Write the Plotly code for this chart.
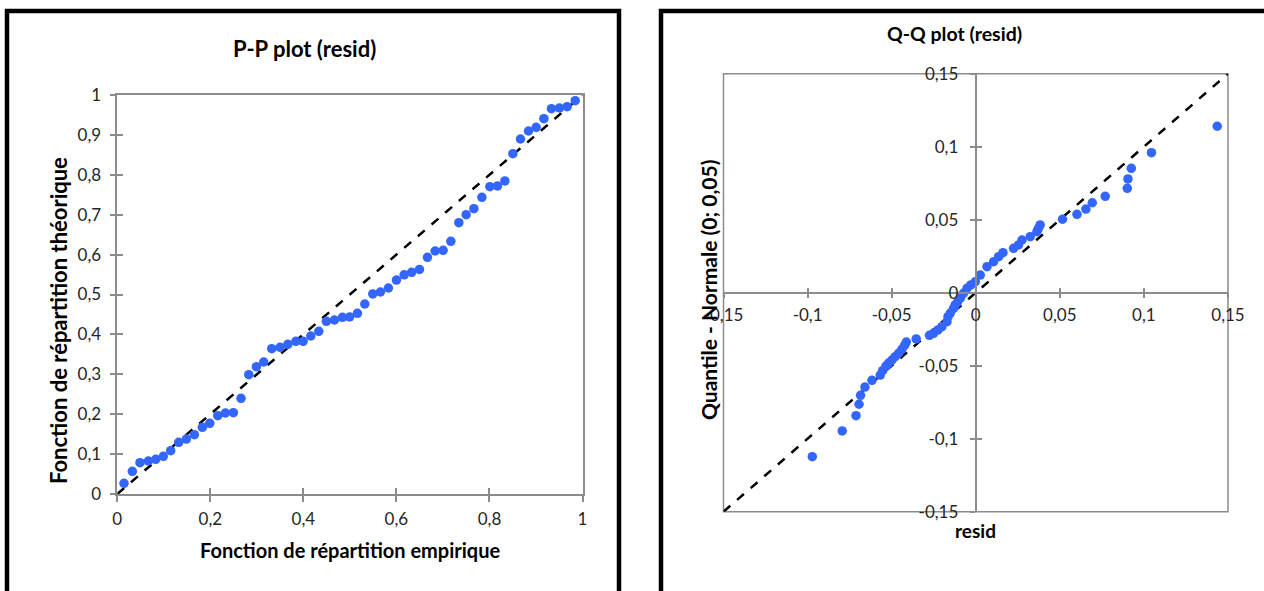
import plotly.graph_objects as go

W, H = 1264, 591

# ---------------- data ----------------
pp_empirical = [0.0144, 0.0323, 0.0488, 0.0667, 0.0826, 0.0989, 0.1148, 0.1320, 0.1484, 0.1656,
                0.1828, 0.1987, 0.2159, 0.2323, 0.2495, 0.2660, 0.2826, 0.2989, 0.3148, 0.3320,
                0.3499, 0.3665, 0.3837, 0.3994, 0.4159, 0.4331, 0.4495, 0.4667, 0.4839, 0.4994,
                0.5161, 0.5320, 0.5492, 0.5656, 0.5828, 0.6000, 0.6166, 0.6327, 0.6495, 0.6667,
                0.6832, 0.7004, 0.7170, 0.7342, 0.7499, 0.7665, 0.7837, 0.8009, 0.8172, 0.8331,
                0.8503, 0.8667, 0.8839, 0.9004, 0.9170, 0.9333, 0.9505, 0.9671, 0.9843]
pp_theoretical = [0.0268, 0.0569, 0.0784, 0.0827, 0.0870, 0.0945, 0.1085, 0.1296, 0.1378, 0.1486,
                  0.1672, 0.1772, 0.1962, 0.2030, 0.2038, 0.2398, 0.2990, 0.3190, 0.3308, 0.3642,
                  0.3677, 0.3752, 0.3827, 0.3827, 0.3960, 0.4078, 0.4328, 0.4361, 0.4429, 0.4436,
                  0.4529, 0.4762, 0.5013, 0.5063, 0.5163, 0.5363, 0.5494, 0.5556, 0.5627, 0.5932,
                  0.6090, 0.6108, 0.6333, 0.6799, 0.7000, 0.7150, 0.7436, 0.7702, 0.7719, 0.7845,
                  0.8529, 0.8897, 0.9098, 0.9190, 0.9406, 0.9657, 0.9674, 0.9707, 0.9857]
pp_ref_line = [0, 1]

qq_resid = [-0.0972, -0.0794, -0.0712, -0.0694, -0.0685, -0.0659, -0.0617, -0.0568, -0.0554, -0.0534,
            -0.0518, -0.0498, -0.0479, -0.0459, -0.0439, -0.0423, -0.0413, -0.0354, -0.0275, -0.0251,
            -0.0225, -0.0201, -0.0171, -0.0165, -0.0152, -0.0132, -0.0122, -0.0108, -0.0092, -0.0073,
            -0.0052, -0.0029, -0.0003, 0.0027, 0.0067, 0.0106, 0.0136, 0.0162, 0.0225, 0.0254,
            0.0275, 0.0324, 0.0364, 0.0373, 0.0383, 0.0516, 0.0602, 0.0655, 0.0693, 0.0770,
            0.0901, 0.0905, 0.0925, 0.1045, 0.1436]
qq_normal = [-0.1123, -0.0947, -0.0842, -0.0764, -0.0703, -0.0646, -0.0600, -0.0564, -0.0534, -0.0502,
             -0.0482, -0.0461, -0.0438, -0.0415, -0.0388, -0.0360, -0.0338, -0.0317, -0.0292, -0.0278,
             -0.0255, -0.0233, -0.0199, -0.0164, -0.0141, -0.0107, -0.0084, -0.0064, -0.0038, -0.0004,
             0.0030, 0.0053, 0.0075, 0.0121, 0.0178, 0.0212, 0.0247, 0.0274, 0.0304, 0.0327,
             0.0361, 0.0384, 0.0418, 0.0441, 0.0464, 0.0503, 0.0537, 0.0573, 0.0616, 0.0660,
             0.0715, 0.0779, 0.0852, 0.0959, 0.1140]
qq_ref_line = [-0.15, 0.15]

pp_ticks = [0, 0.2, 0.4, 0.6, 0.8, 1]
pp_ticktext = ["0", "0,2", "0,4", "0,6", "0,8", "1"]
pp_yticks = [0, 0.1, 0.2, 0.3, 0.4, 0.5, 0.6, 0.7, 0.8, 0.9, 1]
pp_yticktext = ["0", "0,1", "0,2", "0,3", "0,4", "0,5", "0,6", "0,7", "0,8", "0,9", "1"]
qq_ticks = [-0.15, -0.1, -0.05, 0, 0.05, 0.1, 0.15]
qq_ticktext = ["-0,15", "-0,1", "-0,05", "0", "0,05", "0,1", "0,15"]

# ---------------- style ----------------
FONT = "Lato, Carlito, Calibri, sans-serif"
BLUE = "#3366FF"
GRAY = "#8c8c8c"
TXT = "#262626"


def px(x):
    return x / W


def py(y):
    return 1 - y / H


pp_xdom = [px(117.3), px(582.5)]
pp_ydom = [py(494), py(95)]
qq_xdom = [px(723.5), px(1228)]
qq_ydom = [py(511.7), py(73.7)]
qq_zero_x = px(975.5)
qq_zero_y = py(292.7)

fig = go.Figure()

# P-P
fig.add_trace(go.Scatter(x=pp_ref_line, y=pp_ref_line, mode="lines",
                         line=dict(color="black", width=2.5, dash="dash"),
                         xaxis="x", yaxis="y", hoverinfo="skip", showlegend=False))
fig.add_trace(go.Scatter(x=pp_empirical, y=pp_theoretical, mode="markers",
                         marker=dict(color=BLUE, size=9.5), xaxis="x", yaxis="y", showlegend=False))
# Q-Q
fig.add_trace(go.Scatter(x=qq_ref_line, y=qq_ref_line, mode="lines",
                         line=dict(color="black", width=2.5, dash="dash"),
                         xaxis="x2", yaxis="y2", hoverinfo="skip", showlegend=False))
fig.add_trace(go.Scatter(x=qq_resid, y=qq_normal, mode="markers",
                         marker=dict(color=BLUE, size=9.5), xaxis="x2", yaxis="y2", showlegend=False))
# empty traces for overlay tick axes (crossing ticks)
fig.add_trace(go.Scatter(x=[], y=[], xaxis="x3", yaxis="y3", showlegend=False))
fig.add_trace(go.Scatter(x=[], y=[], xaxis="x4", yaxis="y4", showlegend=False))

tickfont = dict(family=FONT, size=17, color=TXT)
common = dict(showgrid=False, zeroline=False, linecolor=GRAY, linewidth=1.5, automargin=False,
              tickcolor=GRAY, tickwidth=1.5, tickfont=tickfont, fixedrange=True)


def ann(text, x, y, size, angle=0):
    return dict(text=text, xref="paper", yref="paper", x=px(x), y=py(y), xanchor="center",
                yanchor="middle", textangle=angle, showarrow=False,
                font=dict(family=FONT, size=size, color="black"))


fig.update_layout(
    template="none",
    width=W, height=H, margin=dict(l=0, r=0, t=0, b=0, autoexpand=False),
    paper_bgcolor="white", plot_bgcolor="white",
    xaxis=dict(domain=pp_xdom, range=[0, 1], anchor="y", showline=True, mirror=True,
               ticks="outside", ticklen=6, tickvals=pp_ticks, ticktext=pp_ticktext,
               ticklabelstandoff=3, **common),
    yaxis=dict(domain=pp_ydom, range=[0, 1], anchor="x", showline=True, mirror=True,
               ticks="outside", ticklen=6, tickvals=pp_yticks, ticktext=pp_yticktext,
               ticklabelstandoff=5, **common),
    xaxis3=dict(overlaying="x", anchor="y3", range=[0, 1], showline=False, ticks="inside",
                ticklen=6, tickvals=pp_ticks, showticklabels=False, **common),
    yaxis3=dict(overlaying="y", anchor="x3", range=[0, 1], showline=False, ticks="inside",
                ticklen=6, tickvals=pp_yticks, showticklabels=False, **common),
    xaxis2=dict(domain=qq_xdom, range=[-0.15, 0.15], anchor="free", position=qq_zero_y,
                showline=True, ticks="outside", ticklen=5, tickvals=qq_ticks, ticktext=qq_ticktext,
                ticklabelstandoff=2, **common),
    yaxis2=dict(domain=qq_ydom, range=[-0.15, 0.15], anchor="free", position=qq_zero_x,
                showline=True, ticks="outside", ticklen=5, tickvals=qq_ticks, ticktext=qq_ticktext,
                ticklabelstandoff=8, **common),
    xaxis4=dict(overlaying="x2", anchor="free", position=qq_zero_y, range=[-0.15, 0.15],
                showline=False, ticks="inside", ticklen=5, tickvals=qq_ticks,
                showticklabels=False, **common),
    yaxis4=dict(overlaying="y2", anchor="free", position=qq_zero_x, range=[-0.15, 0.15],
                showline=False, ticks="inside", ticklen=5, tickvals=qq_ticks,
                showticklabels=False, **common),
    shapes=[
        dict(type="rect", xref="paper", yref="paper", x0=px(7), x1=px(619), y0=-0.1, y1=py(11),
             line=dict(color="black", width=4.5), layer="above"),
        dict(type="rect", xref="paper", yref="paper", x0=px(661), x1=1.1, y0=-0.1, y1=py(11),
             line=dict(color="black", width=4.5), layer="above"),
        dict(type="rect", xref="x2 domain", yref="y2 domain", x0=0, x1=1, y0=0, y1=1,
             line=dict(color=GRAY, width=1.5), layer="below"),
    ],
    annotations=[
        ann("<b>P-P plot (resid)</b>", 304, 48, 22),
        ann("<b>Q-Q plot (resid)</b>", 954, 33, 19.5),
        ann("<b>Fonction de répartition empirique</b>", 350, 550, 20),
        ann("<b>Fonction de répartition théorique</b>", 58, 321, 22, -90),
        ann("<b>resid</b>", 975, 530, 19),
        ann("<b>Quantile - Normale (0; 0,05)</b>", 708, 290, 21, -90),
    ],
)

fig.write_html("out.html")
